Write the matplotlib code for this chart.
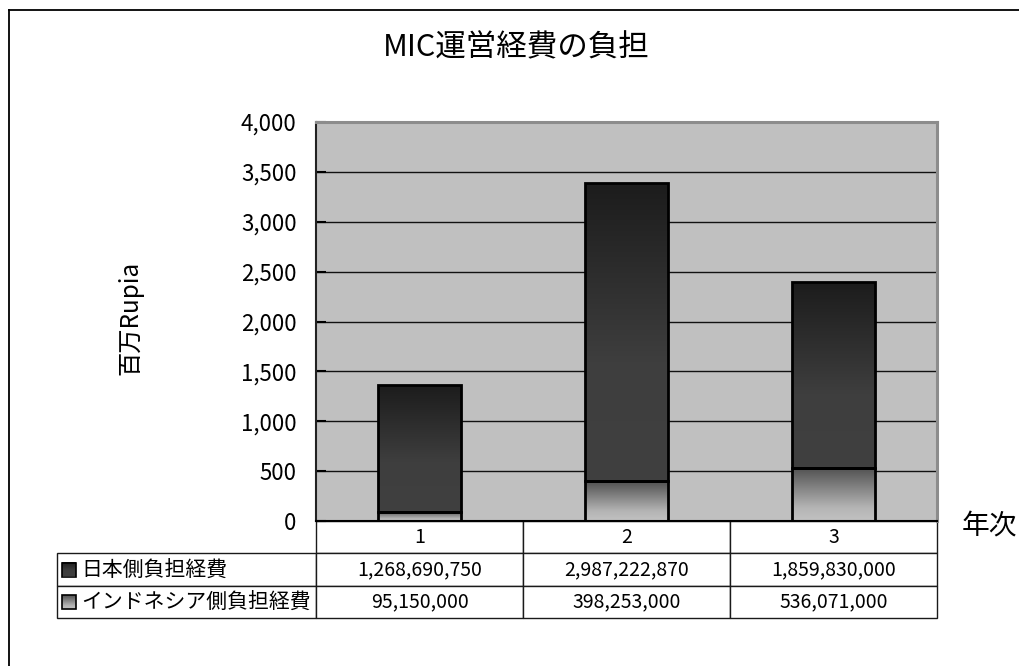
#!/usr/bin/env python3
"""
MIC運営経費の負担 - 年次別の積み上げ棒グラフ（データ表付き）
"""

import numpy as np
import matplotlib
matplotlib.use("Agg")
import matplotlib.pyplot as plt
from matplotlib.colors import LinearSegmentedColormap
from matplotlib.patches import Rectangle
from matplotlib.lines import Line2D
from matplotlib.table import Table
from matplotlib.ticker import StrMethodFormatter

plt.rcParams['font.family'] = ['Noto Sans CJK JP', 'DejaVu Sans']

# データ（単位: Rupia）
years = ['1', '2', '3']
series_names = ['日本側負担経費', 'インドネシア側負担経費']
japan = [1268690750, 2987222870, 1859830000]
indonesia = [95150000, 398253000, 536071000]

title = 'MIC運営経費の負担'
ylabel = '百万Rupia'
xlabel = '年次'
y_ticks = [0, 500, 1000, 1500, 2000, 2500, 3000, 3500, 4000]

# グラデーション（上から下へ）
cmap_japan = LinearSegmentedColormap.from_list(
    'jp', [(0.0, '#1c1c1c'), (0.6, '#3e3e3e'), (1.0, '#404040')])
cmap_indo = LinearSegmentedColormap.from_list(
    'id', [(0.0, '#505050'), (0.75, '#b4b4b4'), (1.0, '#c2c2c2')])
grad = np.linspace(0, 1, 256).reshape(-1, 1)


def fill_gradient(ax, bars, cmap):
    """棒の矩形をグラデーション画像で塗る"""
    for rect in bars:
        x0, y0 = rect.get_x(), rect.get_y()
        x1, y1 = x0 + rect.get_width(), y0 + rect.get_height()
        ax.imshow(grad, extent=(x0, x1, y0, y1), aspect='auto', cmap=cmap,
                  vmin=0, vmax=1, zorder=2, interpolation='bilinear')


W, H = 1020, 666
fig = plt.figure(figsize=(W / 100, H / 100), dpi=100)
fig.patch.set_facecolor('white')

# プロット領域（ピクセル基準）
L, R, T, B = 316, 937, 122, 521
AW, AH = R - L, B - T
ax = fig.add_axes([L / W, 1 - B / H, AW / W, AH / H])
ax.set_facecolor('#c0c0c0')

x = np.arange(len(years))
jp_m = np.array(japan) / 1e6
id_m = np.array(indonesia) / 1e6

bars_id = ax.bar(x, id_m, width=0.4, facecolor='none', edgecolor='black',
                 linewidth=2, zorder=3)
bars_jp = ax.bar(x, jp_m, width=0.4, bottom=id_m, facecolor='none',
                 edgecolor='black', linewidth=2, zorder=3)
fill_gradient(ax, bars_id, cmap_indo)
fill_gradient(ax, bars_jp, cmap_japan)

ax.set_yticks(y_ticks)
ax.yaxis.set_major_formatter(StrMethodFormatter('{x:,.0f}'))
ax.set_xticks([])
ax.tick_params(axis='y', direction='in', length=7, width=1.5, pad=14,
               labelsize=16, colors='black')
ax.yaxis.grid(True, color='#111111', linewidth=1.0, zorder=1)
ax.set_axisbelow(True)

ax.spines['left'].set_color('#222222')
ax.spines['left'].set_linewidth(1.5)
ax.spines['bottom'].set_color('black')
ax.spines['bottom'].set_linewidth(1.5)
for side in ('top', 'right'):
    ax.spines[side].set_color('#8c8c8c')
    ax.spines[side].set_linewidth(2.2)

ax.set_ylabel(ylabel, fontsize=17.5)
ax.yaxis.set_label_coords((143 - L) / AW, 0.51)

# データ表（行ラベル列 + 年次列）、大きさは軸座標
tb_bottom = 618
label_w = (L - 57) / AW
col_w = 1.0 / len(years)
row_h = (tb_bottom - B) / AH / 3
table = Table(ax, bbox=[0, -(tb_bottom - B) / AH, 1, (tb_bottom - B) / AH])
for j, yr in enumerate(years):
    table.add_cell(0, j, width=col_w, height=row_h, text=yr, loc='center')
for i, (name, vals) in enumerate(zip(series_names, [japan, indonesia])):
    table.add_cell(i + 1, -1, width=label_w, height=row_h, text=name,
                   loc='left')
    for j, v in enumerate(vals):
        table.add_cell(i + 1, j, width=col_w, height=row_h,
                       text=f'{v:,}', loc='center')
table.auto_set_font_size(False)
table.set_fontsize(14)
for (r, c), cell in table.get_celld().items():
    cell.set_edgecolor('#1a1a1a')
    cell.set_linewidth(1.0)
    cell.set_facecolor('white')
    if c == -1:
        cell.PAD = 0.095
        cell.get_text().set_fontsize(15)
ax.add_table(table)

# 凡例キー（表の行ラベル左）
key_cmaps = [cmap_japan, cmap_indo]
row_centers = [569.5, 602]
for cm, yc in zip(key_cmaps, row_centers):
    kx0, kx1 = (62 - L) / AW, (76 - L) / AW
    ky0 = -(yc + 7 - B) / AH
    ky1 = -(yc - 7 - B) / AH
    ax.imshow(grad, extent=(kx0, kx1, ky0, ky1), transform=ax.transAxes,
              aspect='auto', cmap=cm, vmin=0, vmax=1, clip_on=False, zorder=11)
    ax.add_patch(Rectangle((kx0, ky0), kx1 - kx0, ky1 - ky0,
                           transform=ax.transAxes, fill=False,
                           edgecolor='black', linewidth=1.2,
                           clip_on=False, zorder=12))

ax.set_xlim(-0.5, len(years) - 0.5)
ax.set_ylim(0, 4000)

# タイトル・軸ラベル
fig.text(516 / W, 1 - 48 / H, title, fontsize=22, ha='center', va='center')
fig.text(962 / W, 1 - 525 / H, xlabel, fontsize=20, ha='left', va='center')

# 外枠（上・左）
fig.add_artist(Line2D([9 / W, 1], [1 - 10 / H, 1 - 10 / H],
                      transform=fig.transFigure, color='black', linewidth=1.3))
fig.add_artist(Line2D([9 / W, 9 / W], [0, 1 - 10 / H],
                      transform=fig.transFigure, color='black', linewidth=1.3))

fig.savefig('out.png', dpi=100)
